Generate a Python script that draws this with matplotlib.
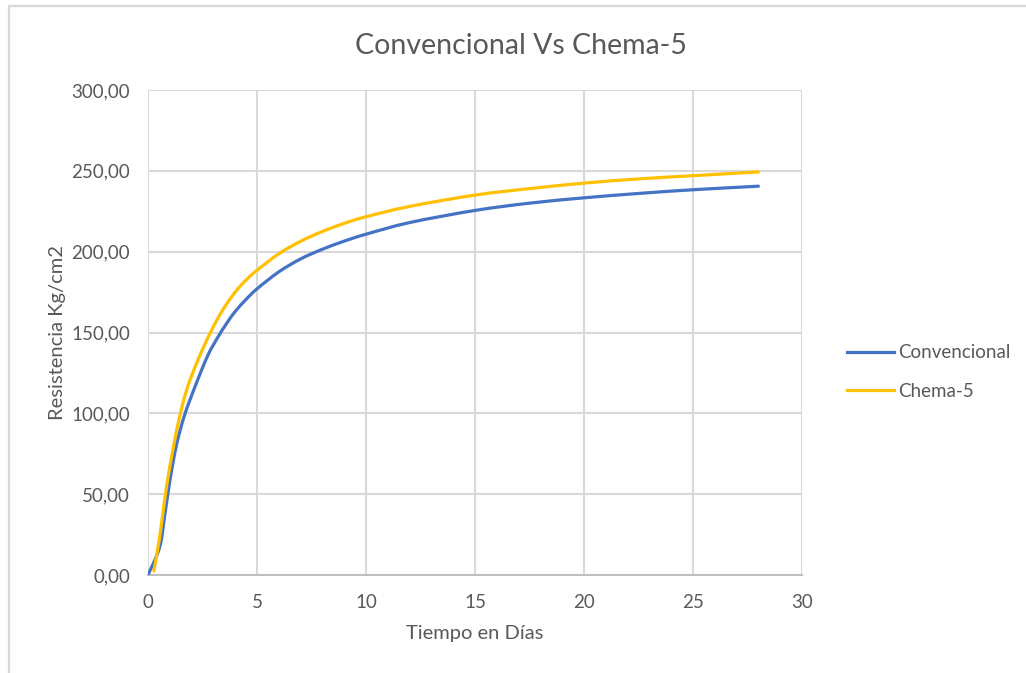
import matplotlib
matplotlib.use("Agg")
import matplotlib.pyplot as plt
import numpy as np
from matplotlib.lines import Line2D
from matplotlib.path import Path
from matplotlib.patches import PathPatch
from matplotlib.ticker import FuncFormatter, MultipleLocator

# Curing time (days) and compressive strength (kg/cm2)
dias_conv = [0, 0.53, 0.76, 1.0, 1.3, 1.68, 2.2, 2.75, 3.2, 3.6, 4.0, 4.5, 5,
             6, 7, 8, 9, 10, 12, 15, 17.5, 20, 22.5, 25, 28]
conv = [0, 17, 36, 58, 80, 99, 118, 136, 147, 155.5, 163, 170.5, 177,
        187.5, 195.5, 201.5, 206.5, 210.8, 218, 225.5, 230, 233.3, 236, 238.3, 240.5]

dias_chema = [0.27, 0.53, 0.76, 1.0, 1.37, 1.76, 2.29, 2.9, 3.43, 4.0, 4.5, 5,
              6, 7, 8, 9, 10, 12, 15, 17.5, 20, 22.5, 25, 28]
chema = [2.5, 23, 46, 67, 93, 114, 133, 151, 164, 175, 182.5, 188.5,
         198.7, 206.4, 212.5, 217.5, 221.6, 228, 235, 239, 242.4, 245, 247, 249.3]

series_names = ["Convencional", "Chema-5"]
series_colors = ["#4472C4", "#FFC000"]

TEXT = "#595959"
GRID = "#D9D9D9"
FONT = "Lato"


def smooth_path(xs, ys):
    """Cubic Bezier path through the points (spreadsheet-style smoothed line)."""
    p = np.column_stack([xs, ys]).astype(float)
    n = len(p)
    verts = [p[0]]
    codes = [Path.MOVETO]
    for i in range(n - 1):
        prev = p[i - 1] if i > 0 else p[i]
        nxt = p[i + 2] if i + 2 < n else p[i + 1]
        c1 = p[i] + (p[i + 1] - prev) / 6.0
        c2 = p[i + 1] - (nxt - p[i]) / 6.0
        verts += [c1, c2, p[i + 1]]
        codes += [Path.CURVE4] * 3
    return Path(verts, codes)


fig = plt.figure(figsize=(10.26, 6.73), dpi=100)
ax = fig.add_axes([148 / 1026, 1 - 575 / 673, 654 / 1026, 485 / 673])

for xs, ys, col in [(dias_conv, conv, series_colors[0]),
                    (dias_chema, chema, series_colors[1])]:
    ax.add_patch(PathPatch(smooth_path(xs, ys), fill=False, edgecolor=col,
                           lw=2.3, capstyle="round", joinstyle="round",
                           transform=ax.transData, zorder=3))

ax.set_xlim(0, 30)
ax.set_ylim(0, 300)
ax.xaxis.set_major_locator(MultipleLocator(5))
ax.yaxis.set_major_locator(MultipleLocator(50))
ax.yaxis.set_major_formatter(FuncFormatter(lambda v, _: f"{v:.2f}".replace(".", ",")))

ax.grid(True, color=GRID, lw=1.5, zorder=0)
ax.set_axisbelow(True)
for side in ["top", "right", "left"]:
    ax.spines[side].set_visible(False)
ax.spines["bottom"].set_color("#BFBFBF")
ax.spines["bottom"].set_linewidth(1.5)
ax.tick_params(axis="y", length=0, labelsize=13.5, labelcolor=TEXT, pad=13)
ax.tick_params(axis="x", length=0, labelsize=13.5, labelcolor=TEXT, pad=14)
for lab in ax.get_xticklabels() + ax.get_yticklabels():
    lab.set_fontfamily(FONT)

ax.set_xlabel("Tiempo en Días", fontsize=14.5, color=TEXT, family=FONT, labelpad=10)
ax.set_ylabel("Resistencia Kg/cm2", fontsize=14.5, color=TEXT, family=FONT, labelpad=4)

fig.text(521 / 1026, 1 - 46 / 673, "Convencional Vs Chema-5", ha="center", va="center",
         fontsize=20.5, color=TEXT, family=FONT)

handles = [Line2D([], [], color=c, lw=2.3) for c in series_colors]
leg = fig.legend(handles, series_names, loc="center left",
                 bbox_to_anchor=(830 / 1026, 1 - 372 / 673), frameon=False,
                 handlelength=2.5, handletextpad=0.25, labelspacing=1.15,
                 prop={"family": FONT, "size": 13.5})
for t in leg.get_texts():
    t.set_color(TEXT)

# outer chart frame
fig.add_artist(Line2D([8.5 / 1026, 8.5 / 1026], [0, 1 - 5.5 / 673],
                      transform=fig.transFigure, color=GRID, lw=1.6))
fig.add_artist(Line2D([8.5 / 1026, 1], [1 - 5.5 / 673, 1 - 5.5 / 673],
                      transform=fig.transFigure, color=GRID, lw=1.6))

fig.savefig("out.png", dpi=100, facecolor="white")
